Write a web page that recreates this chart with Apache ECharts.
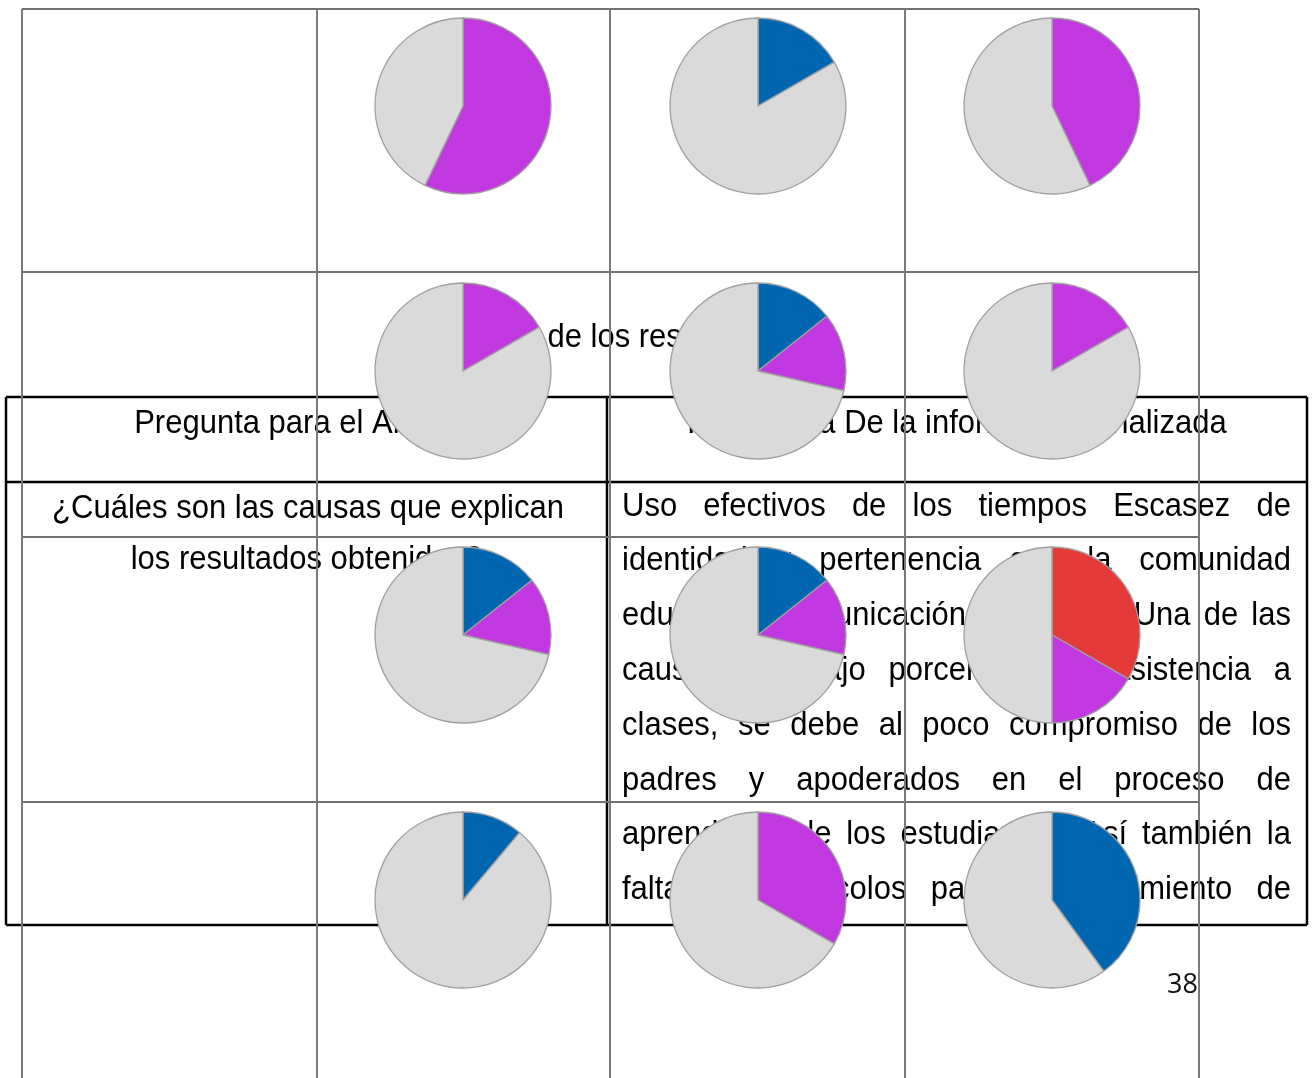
<!DOCTYPE html>
<html><head><meta charset="utf-8">
<script src="https://cdn.jsdelivr.net/npm/echarts@6/dist/echarts.min.js"></script>
<style>html,body{margin:0;padding:0;background:#fff}#c{width:1313px;height:1078px}</style>
</head><body><div id="c"></div>
<script>
// ---- data (percent of each pie, rows top→bottom, columns left→right) ----
const blueShare   = [[0, 16.7, 0], [0, 14.3, 0], [14.3, 14.3, 0], [11.1, 0, 40.0]];
const redShare    = [[0, 0, 0], [0, 0, 0], [0, 0, 33.3], [0, 0, 0]];
const purpleShare = [[57.1, 0, 42.9], [16.7, 14.3, 16.7], [14.3, 14.3, 16.7], [0, 33.3, 0]];
const greyShare   = [[42.9, 83.3, 57.1], [83.3, 71.4, 83.3], [71.4, 71.4, 50.0], [88.9, 66.7, 60.0]];

// ---- document text ----
const titleText = 'Análisis de los resultados';
const headerLeft = 'Pregunta para el Análisis';
const headerRight = 'Respuesta De la información analizada';
const questionLines = ['¿Cuáles son las causas que explican', 'los resultados obtenidos?'];
const answerLines = [
  'Uso efectivos de los tiempos Escasez de',
  'identidad y pertenencia con la comunidad',
  'educativa, comunicación deficiente. Una de las',
  'causas del bajo porcentaje de asistencia a',
  'clases, se debe al poco compromiso de los',
  'padres y apoderados en el proceso de',
  'aprendizaje de los estudiantes. Así también la',
  'falta de protocolos para el seguimiento de'
];
const pageNumber = '38';

// ---- layout ----
const colX = [463, 758, 1052];
const rowY = [106, 371, 635, 900];
const R = 88;
const gridX = [22, 317, 610, 905, 1199];
const gridY = [9, 272, 537, 802];
const COLORS = {blue: '#0066b0', red: '#e43a3a', purple: '#c238e0', grey: '#dadada'};
const FS = 31, FF = 'Liberation Sans', SY = 1.1;

const graphics = [];
function txt(s, x, base, align) {
  graphics.push({type: 'text', z: 1, silent: true, x: x, y: base, scaleY: SY,
    style: {text: s, x: 0, y: -9, fontSize: FS, fontFamily: FF, fill: '#000',
      textAlign: align || 'left', textVerticalAlign: 'middle'}});
}
function line(x1, y1, x2, y2, color, w, z) {
  graphics.push({type: 'line', z: z, silent: true, shape: {x1, y1, x2, y2},
    style: {stroke: color, lineWidth: w}});
}

// text
txt(titleText, 432, 347);
txt(headerLeft, 306.5, 433, 'center');
txt(headerRight, 957, 433, 'center');
txt(questionLines[0], 308, 518, 'center');
txt(questionLines[1], 306.5, 569, 'center');

// justified answer lines
const ctx = document.createElement('canvas').getContext('2d');
ctx.font = FS + 'px "' + FF + '"';
const L = 622, RR = 1291;
answerLines.forEach((ln, i) => {
  const base = 516 + i * 54.8;
  const words = ln.split(' ');
  const ws = words.map(w => ctx.measureText(w).width);
  const tot = ws.reduce((a, b) => a + b, 0);
  const gap = (RR - L - tot) / (words.length - 1);
  let x = L;
  words.forEach((w, k) => { txt(w, x, base); x += ws[k] + gap; });
});

// page number
graphics.push({type: 'text', z: 1, silent: true,
  style: {text: pageNumber, x: 1198, y: 985, fontSize: 27, fontFamily: 'Open Sans', fill: '#111',
    textAlign: 'right', textVerticalAlign: 'middle'}});

// black table
line(6, 397, 1307, 397, '#000', 2.5, 2);
line(6, 482, 1307, 482, '#000', 2.5, 2);
line(6, 925, 1307, 925, '#000', 2.5, 2);
line(6, 397, 6, 925, '#000', 2.5, 2);
line(1307, 397, 1307, 925, '#000', 2.5, 2);
line(607, 397, 607, 925, '#000', 2.5, 2);

// grey grid
gridY.forEach(y => line(gridX[0], y, gridX[gridX.length - 1], y, '#707070', 2, 3));
gridX.forEach(x => line(x, gridY[0], x, 1078, '#7a7a7a', 2, 3));

// pies
const series = [];
for (let r = 0; r < rowY.length; r++) {
  for (let c = 0; c < colX.length; c++) {
    const data = [];
    if (blueShare[r][c] > 0) data.push({value: blueShare[r][c], itemStyle: {color: COLORS.blue}});
    if (redShare[r][c] > 0) data.push({value: redShare[r][c], itemStyle: {color: COLORS.red}});
    if (purpleShare[r][c] > 0) data.push({value: purpleShare[r][c], itemStyle: {color: COLORS.purple}});
    data.push({value: greyShare[r][c], itemStyle: {color: COLORS.grey}});
    series.push({type: 'pie', center: [colX[c], rowY[r]], radius: R, startAngle: 90, clockwise: true,
      silent: true, animation: false, z: 10, label: {show: false}, labelLine: {show: false},
      itemStyle: {borderColor: '#a0a0a0', borderWidth: 1.3}, data});
  }
}

const chart = echarts.init(document.getElementById('c'), null, {renderer: 'canvas'});
chart.setOption({backgroundColor: '#fff', animation: false, graphic: {elements: graphics}, series});
</script></body></html>
